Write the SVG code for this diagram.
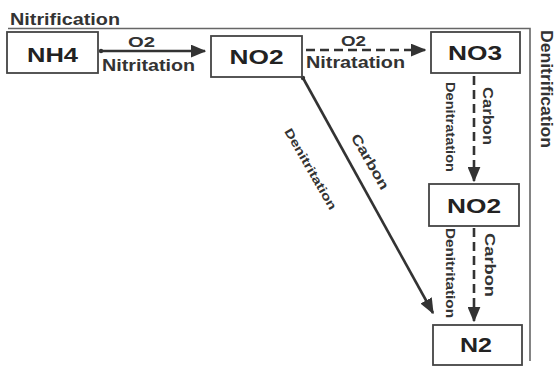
<svg xmlns="http://www.w3.org/2000/svg" width="555" height="367" viewBox="0 0 555 367">
<style>
.box{fill:#fff;stroke:#444;stroke-width:1.8}
.nt{font-family:"Liberation Sans",Arial,sans-serif;font-weight:bold;font-size:21px;fill:#222;text-anchor:middle}
.lb{font-family:"Liberation Sans",Arial,sans-serif;font-weight:bold;font-size:16px;fill:#333}
.cb{font-family:"Liberation Sans",Arial,sans-serif;font-weight:bold;font-size:14px;fill:#333}
.sm{font-family:"Liberation Sans",Arial,sans-serif;font-weight:bold;font-size:12px;fill:#333}
.ln{stroke:#333;stroke-width:2.6;fill:none}
.dash{stroke-dasharray:9,5}
</style>
<defs>
<marker id="ah" viewBox="0 0 12 10" refX="11" refY="5" markerWidth="6" markerHeight="5" orient="auto" markerUnits="strokeWidth"><path d="M0,0 L12,5 L0,10 z" fill="#333"/></marker>
</defs>
<g id="frame">
<path d="M8,28.5 H530 V361" fill="none" stroke="#666" stroke-width="1.6"/>
<text class="lb" x="10" y="25" textLength="110" lengthAdjust="spacingAndGlyphs">Nitrification</text>
<text class="lb" transform="translate(541,30) rotate(90)" textLength="118" lengthAdjust="spacingAndGlyphs">Denitrification</text>
</g>
<g id="connectors">
<line class="ln" x1="101" y1="51" x2="205" y2="51" marker-end="url(#ah)"/>
<circle cx="101" cy="51" r="2.2" fill="#333"/>
<line class="ln dash" x1="306" y1="50" x2="425" y2="50" marker-end="url(#ah)"/>
<line class="ln" x1="303" y1="78" x2="433" y2="313" marker-end="url(#ah)"/>
<circle cx="303" cy="78" r="2.2" fill="#333"/>
<line class="ln dash" x1="474" y1="76" x2="474" y2="181" marker-end="url(#ah)"/>
<line class="ln dash" x1="474" y1="228" x2="474" y2="321" marker-end="url(#ah)"/>
<text class="cb" x="141.5" y="47" text-anchor="middle" textLength="27" lengthAdjust="spacingAndGlyphs">O2</text>
<text class="lb" x="102" y="71" textLength="93" lengthAdjust="spacingAndGlyphs">Nitritation</text>
<text class="cb" x="353.5" y="46" text-anchor="middle" textLength="25" lengthAdjust="spacingAndGlyphs">O2</text>
<text class="lb" x="306" y="68" textLength="99" lengthAdjust="spacingAndGlyphs">Nitratation</text>
<text class="cb" text-anchor="middle" transform="translate(366,164) rotate(60)" textLength="62" lengthAdjust="spacingAndGlyphs">Carbon</text>
<text class="sm" text-anchor="middle" transform="translate(307,171) rotate(60)" textLength="92" lengthAdjust="spacingAndGlyphs">Denitritation</text>
<text class="cb" text-anchor="middle" transform="translate(483,116) rotate(90)" textLength="58" lengthAdjust="spacingAndGlyphs">Carbon</text>
<text class="sm" text-anchor="middle" transform="translate(446,127) rotate(90)" textLength="90" lengthAdjust="spacingAndGlyphs">Denitratation</text>
<text class="cb" text-anchor="middle" transform="translate(485,265) rotate(90)" textLength="64" lengthAdjust="spacingAndGlyphs">Carbon</text>
<text class="sm" text-anchor="middle" transform="translate(446,273) rotate(90)" textLength="90" lengthAdjust="spacingAndGlyphs">Denitritation</text>
</g>
<g id="nh4"><rect class="box" x="7" y="32" width="91" height="41"/><text class="nt" x="52.5" y="62" textLength="51" lengthAdjust="spacingAndGlyphs">NH4</text></g>
<g id="no2a"><rect class="box" x="211" y="36" width="91" height="41"/><text class="nt" x="256.5" y="64" textLength="54" lengthAdjust="spacingAndGlyphs">NO2</text></g>
<g id="no3"><rect class="box" x="431" y="32" width="89" height="41"/><text class="nt" x="475" y="60" textLength="54" lengthAdjust="spacingAndGlyphs">NO3</text></g>
<g id="no2b"><rect class="box" x="429" y="184" width="90" height="42"/><text class="nt" x="474" y="213" textLength="54" lengthAdjust="spacingAndGlyphs">NO2</text></g>
<g id="n2"><rect class="box" x="433" y="325" width="89" height="40"/><text class="nt" x="476" y="352" textLength="32" lengthAdjust="spacingAndGlyphs">N2</text></g>
</svg>
